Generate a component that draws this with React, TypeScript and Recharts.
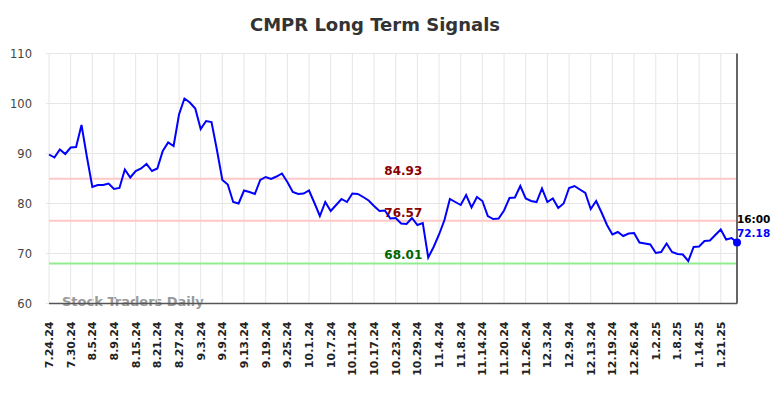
import React from "react";
import {
  LineChart,
  Line,
  XAxis,
  YAxis,
  CartesianGrid,
  ReferenceLine,
  LabelList,
} from "recharts";

// trading days shown on the chart
const dates = [
  "7.24.24", "7.25.24", "7.26.24", "7.29.24", "7.30.24", "7.31.24",
  "8.1.24", "8.2.24", "8.5.24", "8.6.24", "8.7.24", "8.8.24", "8.9.24", "8.12.24",
  "8.13.24", "8.14.24", "8.15.24", "8.16.24", "8.19.24", "8.20.24", "8.21.24", "8.22.24",
  "8.23.24", "8.26.24", "8.27.24", "8.28.24", "8.29.24", "8.30.24",
  "9.3.24", "9.4.24", "9.5.24", "9.6.24", "9.9.24", "9.10.24", "9.11.24", "9.12.24",
  "9.13.24", "9.16.24", "9.17.24", "9.18.24", "9.19.24", "9.20.24", "9.23.24", "9.24.24",
  "9.25.24", "9.26.24", "9.27.24", "9.30.24",
  "10.1.24", "10.2.24", "10.3.24", "10.4.24", "10.7.24", "10.8.24", "10.9.24", "10.10.24",
  "10.11.24", "10.14.24", "10.15.24", "10.16.24", "10.17.24", "10.18.24", "10.21.24", "10.22.24",
  "10.23.24", "10.24.24", "10.25.24", "10.28.24", "10.29.24", "10.30.24", "10.31.24",
  "11.1.24", "11.4.24", "11.5.24", "11.6.24", "11.7.24", "11.8.24", "11.11.24", "11.12.24",
  "11.13.24", "11.14.24", "11.15.24", "11.18.24", "11.19.24", "11.20.24", "11.21.24", "11.22.24",
  "11.25.24", "11.26.24", "11.27.24", "11.29.24",
  "12.2.24", "12.3.24", "12.4.24", "12.5.24", "12.6.24", "12.9.24", "12.10.24", "12.11.24",
  "12.12.24", "12.13.24", "12.16.24", "12.17.24", "12.18.24", "12.19.24", "12.20.24", "12.23.24",
  "12.24.24", "12.26.24", "12.27.24", "12.30.24", "12.31.24",
  "1.2.25", "1.3.25", "1.6.25", "1.7.25", "1.8.25", "1.9.25", "1.10.25", "1.13.25",
  "1.14.25", "1.15.25", "1.16.25", "1.17.25", "1.21.25", "1.22.25", "1.23.25", "1.24.25",
];

const signal = [
  89.8, 89.2, 90.8, 89.9, 91.2, 91.3, 95.7, 89.3, 83.3, 83.7, 83.7, 84.0, 82.9, 83.1,
  86.8, 85.2, 86.5, 87.0, 87.9, 86.5, 87.0, 90.5, 92.2, 91.5, 97.8, 101.0, 100.2, 99.0,
  94.9, 96.5, 96.3, 90.7, 84.7, 83.8, 80.3, 80.0, 82.6, 82.3, 81.9, 84.7, 85.3, 84.9,
  85.4, 86.0, 84.3, 82.3, 81.9, 82.0, 82.6, 80.1, 77.5, 80.3, 78.5, 79.7, 80.9, 80.3,
  82.0, 81.9, 81.3, 80.6, 79.5, 78.5, 78.6, 77.0, 77.1, 76.0, 75.9, 77.1, 75.7, 76.1,
  69.2, 71.3, 73.8, 76.7, 80.9, 80.3, 79.7, 81.7, 79.2, 81.3, 80.5, 77.5, 76.9, 77.0,
  78.6, 81.1, 81.2, 83.5, 81.0, 80.5, 80.3, 83.0, 80.3, 81.0, 79.1, 80.0, 83.1, 83.5,
  82.8, 82.1, 78.9, 80.5, 78.2, 75.7, 73.8, 74.3, 73.5, 74.0, 74.1, 72.2, 72.0, 71.8,
  70.1, 70.3, 72.0, 70.3, 69.9, 69.8, 68.5, 71.3, 71.4, 72.5, 72.6, 73.7, 74.8, 72.8,
  73.1, 72.18,
];

const tickLabels = [
  "7.24.24", "7.30.24", "8.5.24", "8.9.24", "8.15.24", "8.21.24", "8.27.24", "9.3.24",
  "9.9.24", "9.13.24", "9.19.24", "9.25.24", "10.1.24", "10.7.24", "10.11.24", "10.17.24",
  "10.23.24", "10.29.24", "11.4.24", "11.8.24", "11.14.24", "11.20.24", "11.26.24", "12.3.24",
  "12.9.24", "12.13.24", "12.19.24", "12.26.24", "1.2.25", "1.8.25", "1.14.25", "1.21.25",
];

const yTicks = [60, 70, 80, 90, 100, 110];

const upperLevel = 84.93;
const middleLevel = 76.57;
const lowerLevel = 68.01;

const lastTime = "16:00";

const data = dates.map((date, i) => ({ date, value: signal[i] }));
const lastIndex = data.length - 1;

const FONT = "'DejaVu Sans', sans-serif";

const XTick = (props: any) => {
  const { x, y, payload } = props;
  return (
    <text
      x={x}
      y={y}
      dy={4}
      transform={`rotate(-90, ${x}, ${y})`}
      textAnchor="end"
      fontFamily={FONT}
      fontSize={11}
      fontWeight="bold"
      fill="#222"
    >
      {payload.value}
    </text>
  );
};

const LevelLabel = (props: any) => {
  const { viewBox, text, color } = props;
  if (!viewBox) return null;
  return (
    <text
      x={viewBox.x + viewBox.width * 0.515}
      y={viewBox.y - 4}
      textAnchor="middle"
      fontFamily={FONT}
      fontSize={12}
      fontWeight="bold"
      fill={color}
    >
      {text}
    </text>
  );
};

const EndLabel = (props: any) => {
  const { x, y, index, value } = props;
  if (index !== lastIndex) return null;
  return (
    <g fontFamily={FONT} fontSize={10.5} fontWeight="bold">
      <text x={x} y={y - 20} fill="#000">
        {lastTime}
      </text>
      <text x={x} y={y - 6} fill="#0000ff">
        {Number(value).toFixed(2)}
      </text>
    </g>
  );
};

const renderDot = (p: any) => {
  if (p.index !== lastIndex) return <g key={`d-${p.index}`} />;
  return <circle key={`d-${p.index}`} cx={p.cx} cy={p.cy} r={4} fill="#0000ff" />;
};

export default function App() {
  return (
    <div style={{ position: "absolute", left: 0, top: 0, width: 784, height: 398, background: "#fff" }}>
      <svg width={784} height={398} style={{ position: "absolute", left: 0, top: 0 }}>
        <text
          x={375}
          y={31}
          textAnchor="middle"
          fontFamily={FONT}
          fontSize={18}
          fontWeight="bold"
          fill="#333"
        >
          CMPR Long Term Signals
        </text>
        <text x={62} y={306} fontFamily={FONT} fontSize={13} fontWeight="bold" fill="#999">
          Stock Traders Daily
        </text>
      </svg>
      <div style={{ position: "absolute", left: 0, top: 0 }}>
        <LineChart
          width={784}
          height={398}
          data={data}
          margin={{ top: 53.5, right: 47, left: 0, bottom: 0 }}
        >
          <CartesianGrid stroke="#e6e6e6" strokeWidth={1} />
          <XAxis
            dataKey="date"
            ticks={tickLabels}
            interval={0}
            height={94.5}
            tickSize={0}
            tickMargin={18}
            tick={<XTick />}
            axisLine={{ stroke: "#555", strokeWidth: 1.5 }}
          />
          <YAxis
            domain={[60, 110]}
            ticks={yTicks}
            width={49}
            tickSize={3}
            tickMargin={14}
            tickLine={{ stroke: "#e6e6e6" }}
            axisLine={false}
            tick={{ fontFamily: FONT, fontSize: 11.5, fill: "#444" }}
          />
          <ReferenceLine
            y={upperLevel}
            stroke="#ffc8c8"
            strokeWidth={2}
            label={<LevelLabel text={upperLevel.toFixed(2)} color="#8b0000" />}
          />
          <ReferenceLine
            y={middleLevel}
            stroke="#ffc8c8"
            strokeWidth={2}
            label={<LevelLabel text={middleLevel.toFixed(2)} color="#8b0000" />}
          />
          <ReferenceLine
            y={lowerLevel}
            stroke="#90ee90"
            strokeWidth={2}
            label={<LevelLabel text={lowerLevel.toFixed(2)} color="#006400" />}
          />
          <ReferenceLine x={dates[lastIndex]} stroke="#666" strokeWidth={2} />
          <Line
            type="linear"
            dataKey="value"
            stroke="#0000ff"
            strokeWidth={2}
            dot={renderDot}
            activeDot={false}
            isAnimationActive={false}
          >
            <LabelList dataKey="value" content={<EndLabel />} />
          </Line>
        </LineChart>
      </div>
    </div>
  );
}
